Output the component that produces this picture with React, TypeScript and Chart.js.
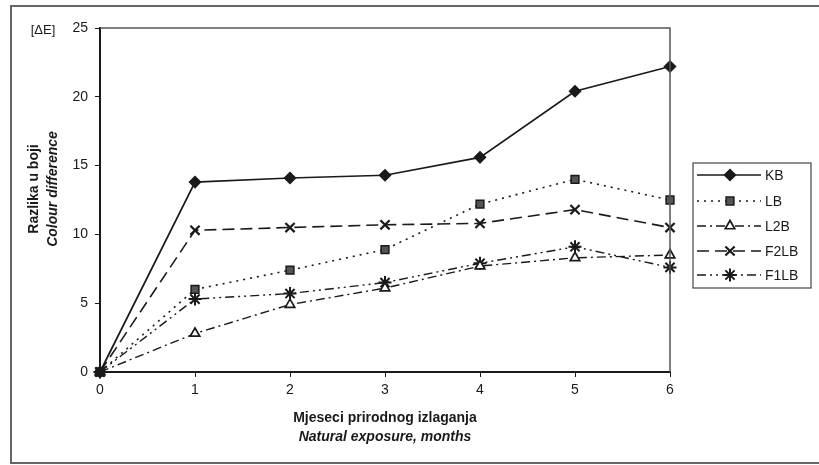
import React, { useEffect, useRef } from "react";
import { Chart, registerables } from "chart.js";
import { drawPoint } from "chart.js/helpers";

Chart.register(...registerables);

const months = ["0", "1", "2", "3", "4", "5", "6"];
const seriesNames = ["KB", "LB", "L2B", "F2LB", "F1LB"];
const kb = [0, 13.8, 14.1, 14.3, 15.6, 20.4, 22.2];
const lb = [0, 6.0, 7.4, 8.9, 12.2, 14.0, 12.5];
const l2b = [0, 2.8, 4.9, 6.1, 7.7, 8.3, 8.5];
const f2lb = [0, 10.3, 10.5, 10.7, 10.8, 11.8, 10.5];
const f1lb = [0, 5.3, 5.7, 6.5, 7.9, 9.1, 7.6];
const yTicks = [0, 5, 10, 15, 20, 25];
const xTitle = ["Mjeseci prirodnog izlaganja", "Natural exposure, months"];
const yTitle = ["Razlika u boji", "Colour difference"];
const yUnit = "[ΔE]";

const FONT = "'Liberation Sans', Arial, sans-serif";
const INK = "#1a1a1a";

const styles = [
  { dash: [], style: "rectRot", radius: 5.5, fill: INK, width: 1.7, pw: 1.5 },
  { dash: [2, 5], style: "rect", radius: 5.5, fill: "#555", width: 1.6, pw: 1.5 },
  { dash: [9, 4, 2, 4], style: "triangle", radius: 5.5, fill: "#fff", width: 1.4, pw: 1.7 },
  { dash: [12, 6], style: "crossRot", radius: 6.5, fill: INK, width: 1.6, pw: 2.2 },
  { dash: [9, 4, 2, 4, 2, 4], style: "star", radius: 6.5, fill: INK, width: 1.4, pw: 2 },
];

const decorPlugin = {
  id: "decor",
  afterDraw(chart: any) {
    const { ctx, chartArea } = chart;
    const { left, right, top, bottom } = chartArea;
    ctx.save();
    ctx.strokeStyle = "#666";
    ctx.lineWidth = 2;
    ctx.setLineDash([]);
    ctx.beginPath();
    ctx.moveTo(819, 6);
    ctx.lineTo(11, 6);
    ctx.lineTo(11, 463);
    ctx.lineTo(819, 463);
    ctx.stroke();
    ctx.strokeStyle = "#555";
    ctx.lineWidth = 1.5;
    ctx.beginPath();
    ctx.moveTo(left, top);
    ctx.lineTo(right, top);
    ctx.lineTo(right, bottom);
    ctx.stroke();

    ctx.fillStyle = INK;
    ctx.textAlign = "center";
    ctx.textBaseline = "middle";
    const cx = (left + right) / 2;
    ctx.font = `bold 14px ${FONT}`;
    ctx.fillText(xTitle[0], cx, 418);
    ctx.font = `italic bold 14px ${FONT}`;
    ctx.fillText(xTitle[1], cx, 437);

    ctx.save();
    ctx.translate(34, 189);
    ctx.rotate(-Math.PI / 2);
    ctx.font = `bold 14px ${FONT}`;
    ctx.fillText(yTitle[0], 0, 0);
    ctx.restore();
    ctx.save();
    ctx.translate(53, 189);
    ctx.rotate(-Math.PI / 2);
    ctx.font = `italic bold 14px ${FONT}`;
    ctx.fillText(yTitle[1], 0, 0);
    ctx.restore();

    ctx.font = `13px ${FONT}`;
    ctx.fillText(yUnit, 43, 30);

    const lx = 693, ly = 163, lw = 118, lh = 125;
    ctx.strokeStyle = "#444";
    ctx.lineWidth = 1.2;
    ctx.strokeRect(lx, ly, lw, lh);
    const rows = [175, 201, 226, 251, 275];
    chart.data.datasets.forEach((ds: any, i: number) => {
      const y = rows[i];
      const st = styles[i];
      ctx.strokeStyle = INK;
      ctx.lineWidth = st.width;
      ctx.setLineDash(st.dash);
      ctx.beginPath();
      ctx.moveTo(697, y);
      ctx.lineTo(761, y);
      ctx.stroke();
      ctx.setLineDash([]);
      ctx.fillStyle = st.fill;
      ctx.strokeStyle = INK;
      ctx.lineWidth = st.pw;
      drawPoint(ctx, { pointStyle: st.style, radius: st.radius, borderWidth: st.pw, rotation: 0 } as any, 730, y);
      ctx.fillStyle = INK;
      ctx.textAlign = "left";
      ctx.font = `14px ${FONT}`;
      ctx.fillText(ds.label, 765, y + 1);
    });
    ctx.restore();
  },
};

export default function App() {
  const ref = useRef<HTMLCanvasElement>(null);
  useEffect(() => {
    const all = [kb, lb, l2b, f2lb, f1lb];
    const chart = new Chart(ref.current!, {
      type: "line",
      data: {
        labels: months,
        datasets: all.map((d, i) => ({
          label: seriesNames[i],
          data: d,
          borderColor: INK,
          borderWidth: styles[i].width,
          borderDash: styles[i].dash,
          pointStyle: styles[i].style as any,
          pointRadius: styles[i].radius,
          pointBackgroundColor: styles[i].fill,
          pointBorderColor: INK,
          pointBorderWidth: styles[i].pw,
          fill: false,
          tension: 0,
          clip: false as any,
        })),
      },
      options: {
        animation: false,
        responsive: false,
        events: [],
        layout: { padding: { left: 0, top: 28, right: 149, bottom: 0 } },
        plugins: { legend: { display: false }, tooltip: { enabled: false } },
        scales: {
          x: {
            type: "category",
            offset: false,
            grid: { display: true, drawOnChartArea: false, drawTicks: true, tickLength: 5, color: INK },
            border: { display: true, color: INK, width: 2 },
            ticks: { color: INK, font: { family: FONT, size: 14 }, padding: 5, maxRotation: 0 },
            afterFit: (s: any) => { s.height = 93; },
          },
          y: {
            min: 0,
            max: 25,
            afterBuildTicks: (s: any) => { s.ticks = yTicks.map((v) => ({ value: v })); },
            grid: { display: true, drawOnChartArea: false, drawTicks: true, tickLength: 5, color: INK },
            border: { display: true, color: INK, width: 2 },
            ticks: { color: INK, font: { family: FONT, size: 14 }, padding: 7 },
            afterFit: (s: any) => { s.width = 100; },
          },
        },
      },
      plugins: [decorPlugin],
    });
    return () => chart.destroy();
  }, []);
  return (
    <div style={{ position: "fixed", left: 0, top: 0, width: 819, height: 465, background: "#fff" }}>
      <canvas ref={ref} width={819} height={465} style={{ width: 819, height: 465 }} />
    </div>
  );
}
